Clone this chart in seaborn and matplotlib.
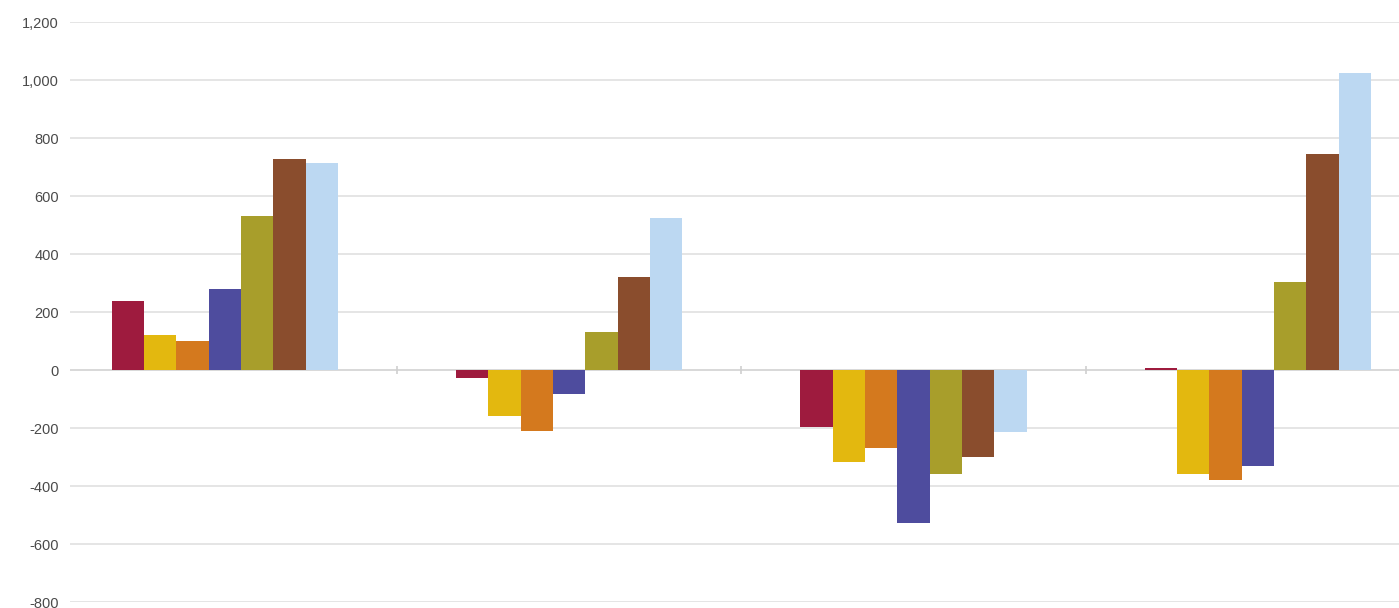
import matplotlib
matplotlib.use("Agg")
import matplotlib.pyplot as plt
import matplotlib.ticker as mticker
import numpy as np
import pandas as pd
import seaborn as sns

# Groups along the x axis and the seven series within each group
groups = ["A", "B", "C", "D"]
series = ["S1", "S2", "S3", "S4", "S5", "S6", "S7"]

s1 = [238, -28, -197, 8]
s2 = [121, -159, -317, -359]
s3 = [100, -210, -269, -379]
s4 = [279, -83, -528, -331]
s5 = [531, 131, -359, 303]
s6 = [728, 321, -300, 745]
s7 = [714, 524, -214, 1024]

palette = ["#9E1B3E", "#E3B80F", "#D4791E", "#4E4C9E",
           "#A89E2B", "#8A4D2D", "#BCD8F2"]

y_ticks = [-800, -600, -400, -200, 0, 200, 400, 600, 800, 1000, 1200]

values = [s1, s2, s3, s4, s5, s6, s7]
df = pd.DataFrame({
    "group": np.repeat([groups], len(series), axis=0).ravel(),
    "series": np.repeat(series, len(groups)),
    "value": np.ravel(values),
})

sns.set_theme(style="white")
plt.rcParams["font.family"] = ["Liberation Sans", "DejaVu Sans"]

fig = plt.figure(figsize=(13.99, 6.08), dpi=100)
ax = fig.add_axes([70 / 1399, 6 / 608, 1 - 70 / 1399, (602 - 22) / 608])

sns.barplot(data=df, x="group", y="value", hue="series", order=groups,
            hue_order=series, palette=palette, width=0.657, gap=0,
            saturation=1, legend=False, ax=ax, zorder=3,
            err_kws={"linewidth": 0})
for p in ax.patches:
    p.set_edgecolor("none")

ax.set_ylim(-800, 1200)
ax.set_xlim(-0.450, 3.41)
ax.set_yticks(y_ticks)
ax.yaxis.set_major_formatter(mticker.FuncFormatter(lambda v, _: f"{int(v):,}"))
ax.tick_params(axis="y", length=0, pad=8, labelsize=10.5, labelcolor="#4a4a4a")
ax.set_xticks([])
ax.set_xlabel("")
ax.set_ylabel("")

ax.grid(axis="y", color="#e3e3e3", linewidth=1.3, zorder=0)
ax.axhline(0, color="#d8d8d8", linewidth=1.3, zorder=1)
# short separators between groups on the zero line
ax.vlines([i + 0.5 for i in range(len(groups) - 1)], -14, 14,
          color="#d0d0d0", linewidth=1.2, zorder=1)

for s in ax.spines.values():
    s.set_visible(False)

fig.savefig("out.png", dpi=100)
